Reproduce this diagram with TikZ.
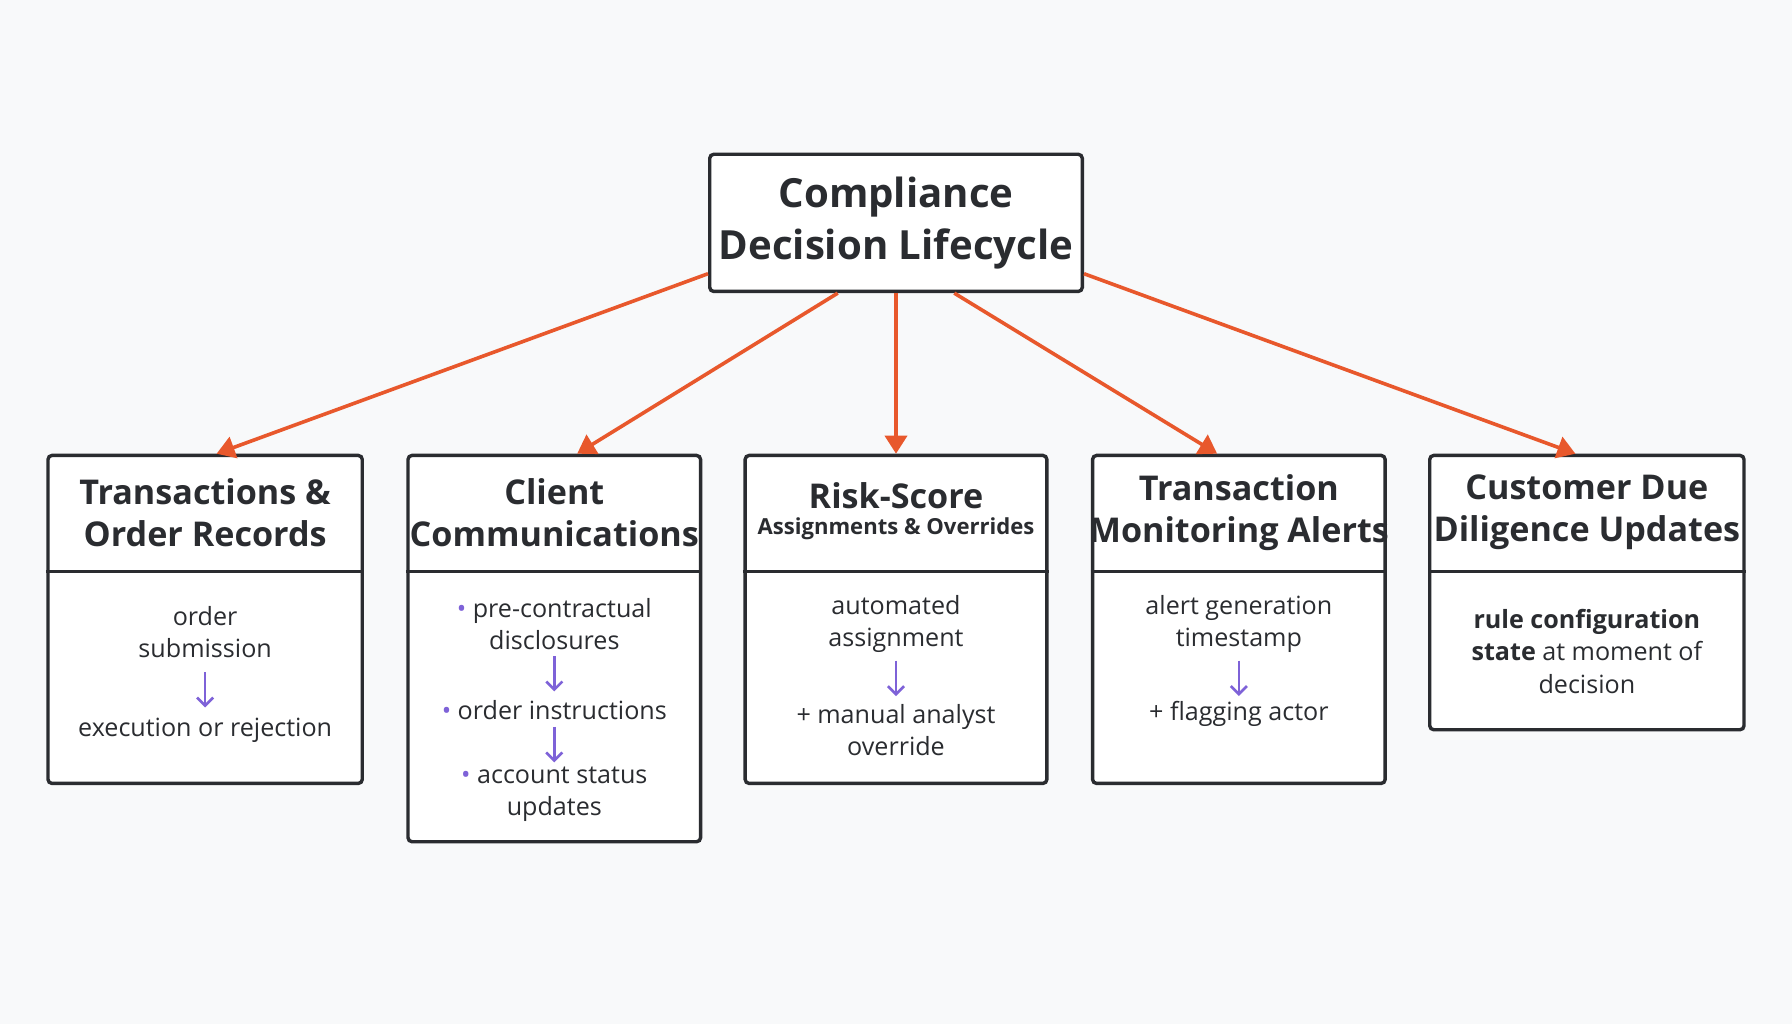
\documentclass[tikz,border=0pt]{standalone}
\usepackage{fontspec}
\setmainfont{Open Sans}
\usetikzlibrary{arrows.meta,positioning}
\definecolor{bgc}{HTML}{F8F9FA}
\definecolor{edgec}{HTML}{2A2C30}
\definecolor{orng}{HTML}{E8582C}
\definecolor{purp}{HTML}{7E62D8}
\newcommand{\bul}{{\color{purp}\textbullet}\ }
\tikzset{
  box/.style={draw=edgec,line width=1.7pt,rounded corners=2pt,fill=white,anchor=north},
  head/.style={font=\bfseries\fontsize{17}{21}\selectfont,text=edgec,align=center},
  body/.style={font=\fontsize{12.5}{16}\selectfont,text=edgec,align=center},
  feed/.style={orng,line width=1.8pt,-{Triangle[length=9pt,width=11pt]}},
  flow/.style={purp,line width=1.3pt,-{Straight Barb[length=4pt,width=8pt]}}
}
\begin{document}
\begin{tikzpicture}
  \fill[bgc] (0,0) rectangle (31.36,-17.92);
  \useasboundingbox (0,0) rectangle (31.36,-17.92);
  % root
  \node[draw=edgec,line width=1.7pt,rounded corners=2pt,fill=white,minimum width=6.52cm,minimum height=2.40cm,
        font=\bfseries\fontsize{20}{26}\selectfont,text=edgec,align=center] (root) at (15.68,-3.90)
        {Compliance\\Decision Lifecycle};
  % five boxes
  \node[box,minimum width=5.50cm,minimum height=5.74cm] (b1) at (3.59,-7.94) {};
  \node[box,minimum width=5.12cm,minimum height=6.76cm] (b2) at (9.70,-7.94) {};
  \node[box,minimum width=5.28cm,minimum height=5.74cm] (b3) at (15.68,-7.94) {};
  \node[box,minimum width=5.12cm,minimum height=5.74cm] (b4) at (21.68,-7.94) {};
  \node[box,minimum width=5.50cm,minimum height=4.80cm] (b5) at (27.77,-7.94) {};
  \foreach \b in {b1,b2,b3,b4,b5}
    \draw[edgec,line width=1.7pt] (\b.west |- 0,-10.00) -- (\b.east |- 0,-10.00);
  % headers
  \node[head] (h1) at (3.59,-8.97) {Transactions \&\\Order Records};
  \node[head] (h2) at (9.70,-8.97) {Client\\Communications};
  \node[head] (h3) at (15.68,-8.68) {Risk-Score};
  \node[head,font=\bfseries\fontsize{11}{13}\selectfont] (h3s) at (15.68,-9.26) {Assignments \& Overrides};
  \node[head] (h4) at (21.68,-8.97) {Transaction\\Monitoring Alerts};
  \node[head] (h5) at (27.77,-8.97) {Customer Due\\Diligence Updates};
  % bodies
  \node[body] (t1a) at (3.59,-11.06) {order\\submission};
  \node[body] (t1b) at (3.59,-12.78) {execution or rejection};
  \node[body] (t2a) at (9.70,-10.92) {\bul pre-contractual\\disclosures};
  \node[body] (t2b) at (9.70,-12.42) {\bul order instructions};
  \node[body] (t2c) at (9.70,-13.90) {\bul account status\\updates};
  \node[body] (t3a) at (15.68,-10.92) {automated\\assignment};
  \node[body] (t3b) at (15.68,-12.78) {+ manual analyst\\override};
  \node[body] (t4a) at (21.68,-10.92) {alert generation\\timestamp};
  \node[body] (t4b) at (21.68,-12.50) {+ flagging actor};
  \node[body] (t5a) at (27.77,-11.40) {\textbf{rule configuration}\\\textbf{state} at moment of\\decision};
  % purple steps
  \draw[flow] (3.59,-11.76) -- (3.59,-12.38);
  \draw[flow] (9.70,-11.48) -- (9.70,-12.10);
  \draw[flow] (9.70,-12.72) -- (9.70,-13.34);
  \draw[flow] (15.68,-11.56) -- (15.68,-12.18);
  \draw[flow] (21.68,-11.56) -- (21.68,-12.18);
  % orange feeds
  \draw[feed] ([yshift=0.34cm]root.south west) -- ([xshift=0.2cm]b1.north);
  \draw[feed] ([xshift=-1.02cm]root.south) -- ([xshift=0.4cm]b2.north);
  \draw[feed] (root.south) -- (b3.north);
  \draw[feed] ([xshift=1.02cm]root.south) -- ([xshift=-0.38cm]b4.north);
  \draw[feed] ([yshift=0.34cm]root.south east) -- ([xshift=-0.2cm]b5.north);
\end{tikzpicture}
\end{document}
